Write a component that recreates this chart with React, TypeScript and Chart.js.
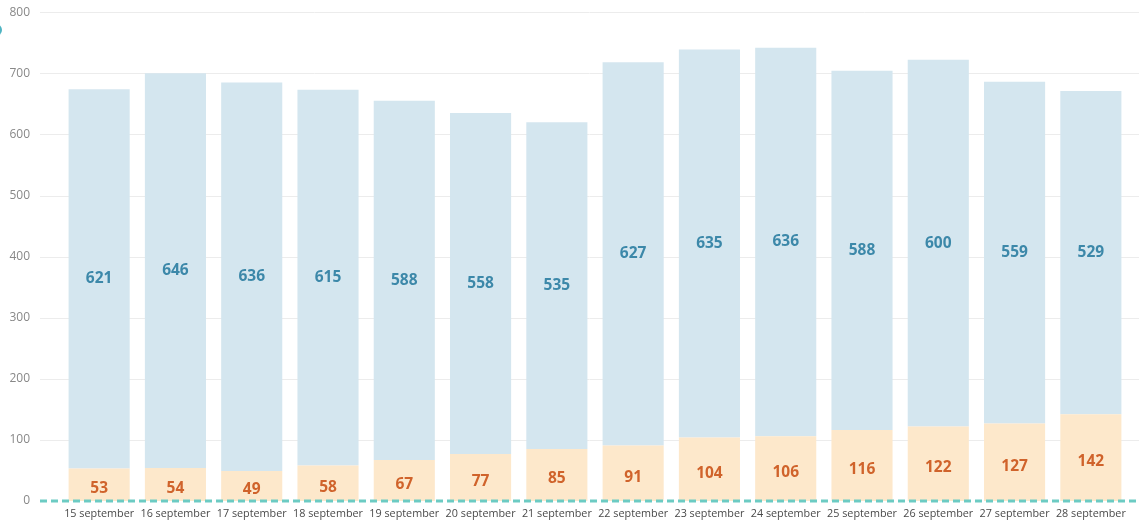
import React, { useEffect, useRef } from "react";
import { Chart, registerables } from "chart.js";

Chart.register(...registerables);

const categories = [
  "15 september", "16 september", "17 september", "18 september", "19 september",
  "20 september", "21 september", "22 september", "23 september", "24 september",
  "25 september", "26 september", "27 september", "28 september",
];
const bottomValues = [53, 54, 49, 58, 67, 77, 85, 91, 104, 106, 116, 122, 127, 142];
const topValues = [621, 646, 636, 615, 588, 558, 535, 627, 635, 636, 588, 600, 559, 529];
const yTicks = [0, 100, 200, 300, 400, 500, 600, 700, 800];

const FONT = "'Open Sans', 'Noto Sans', sans-serif";

const gridPlugin = {
  id: "customGrid",
  beforeDatasetsDraw(chart: any) {
    const { ctx } = chart;
    const y = chart.scales.y;
    ctx.save();
    ctx.strokeStyle = "#ececec";
    ctx.lineWidth = 1;
    yTicks.forEach((t) => {
      if (t === 0) return;
      const py = Math.round(y.getPixelForValue(t)) + 0.5;
      ctx.beginPath();
      ctx.moveTo(40, py);
      ctx.lineTo(chart.width, py);
      ctx.stroke();
    });
    ctx.restore();
  },
  afterDatasetsDraw(chart: any) {
    const { ctx } = chart;
    const y = chart.scales.y;
    ctx.save();
    const colors = ["#d0632b", "#3c88a9"];
    chart.data.datasets.forEach((ds: any, di: number) => {
      const meta = chart.getDatasetMeta(di);
      meta.data.forEach((bar: any, i: number) => {
        const cy = (bar.y + bar.base) / 2;
        ctx.fillStyle = colors[di];
        ctx.font = `bold 15.5px ${FONT}`;
        ctx.textAlign = "center";
        ctx.textBaseline = "middle";
        ctx.fillText(String(ds.data[i]), bar.x, cy + (di === 0 ? 4 : 0));
      });
    });
    const py = y.getPixelForValue(0);
    ctx.strokeStyle = "#6ccbc3";
    ctx.lineWidth = 3;
    ctx.setLineDash([7, 4]);
    ctx.beginPath();
    ctx.moveTo(40, py);
    ctx.lineTo(chart.width, py);
    ctx.stroke();
    ctx.setLineDash([]);
    ctx.fillStyle = "#4fb4c2";
    ctx.beginPath();
    ctx.arc(-4, 30, 6, 0, Math.PI * 2);
    ctx.fill();
    ctx.restore();
  },
};

export default function App() {
  const ref = useRef<HTMLCanvasElement | null>(null);
  useEffect(() => {
    if (!ref.current) return;
    const chart = new Chart(ref.current, {
      type: "bar",
      data: {
        labels: categories,
        datasets: [
          {
            label: "bottom",
            data: bottomValues,
            backgroundColor: "#fde8cb",
            barPercentage: 0.9,
            categoryPercentage: 0.89,
          },
          {
            label: "top",
            data: topValues,
            backgroundColor: "#d4e6ef",
            barPercentage: 0.9,
            categoryPercentage: 0.89,
          },
        ],
      },
      options: {
        animation: false,
        responsive: false,
        maintainAspectRatio: false,
        layout: { padding: { top: 12, right: 10, left: 0, bottom: 0 } },
        plugins: { legend: { display: false }, tooltip: { enabled: false } },
        scales: {
          x: {
            stacked: true,
            grid: { display: false, drawTicks: false },
            border: { display: false },
            afterFit: (s: any) => {
              s.height = 21;
            },
            ticks: {
              color: "#4a4a4a",
              font: { family: FONT, size: 10.8 },
              padding: 6,
              maxRotation: 0,
              autoSkip: false,
            },
          },
          y: {
            stacked: true,
            min: 0,
            max: 800,
            grid: { display: false, tickLength: 26 },
            border: { display: false },
            afterFit: (s: any) => {
              s.width = 61;
            },
            afterBuildTicks: (s: any) => {
              s.ticks = yTicks.map((v) => ({ value: v }));
            },
            ticks: {
              color: "#888",
              font: { family: FONT, size: 12 },
              padding: 5,
            },
          },
        },
      },
      plugins: [gridPlugin],
    });
    return () => chart.destroy();
  }, []);
  return (
    <div style={{ position: "absolute", left: 0, top: 0, width: 1139, height: 522, background: "#fff" }}>
      <canvas ref={ref} width={1139} height={522} style={{ display: "block", width: 1139, height: 522 }} />
    </div>
  );
}
